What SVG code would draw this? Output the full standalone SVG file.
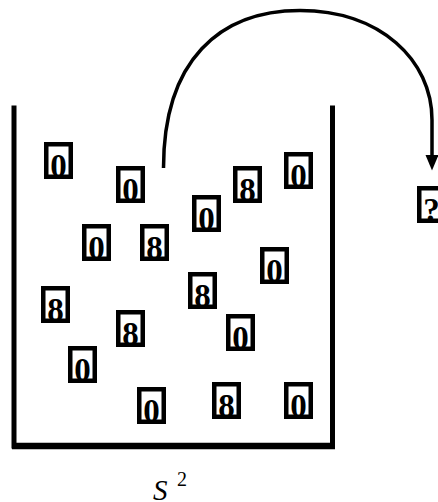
<svg xmlns="http://www.w3.org/2000/svg" width="438" height="502" viewBox="0 0 438 502">
<style>
.box rect{fill:#fff;stroke:#000;stroke-width:4.5}
.box text{font-family:"Liberation Serif","Times New Roman",serif;font-weight:bold;font-size:33px;text-anchor:middle;fill:#000}
.wall{fill:none;stroke:#000;stroke-width:5;stroke-linecap:square}
.conn{fill:none;stroke:#000;stroke-width:3.5}
.lab{font-family:"Liberation Serif","Times New Roman",serif;fill:#000}
</style>
<rect width="438" height="502" fill="#fff"/>
<g id="container">
<path class="wall" d="M14,108 V446 H332.5 V108"/>
<line x1="12" y1="446" x2="335" y2="446" stroke="#000" stroke-width="6.5"/>
</g>
<g id="connectors">
<path class="conn" d="M163.5,168 C163.5,60 220,10.5 300,10.5 C380,10.5 432,60 432,120 L432,156"/>
<polygon points="425.5,155 438.5,155 432,170.5" fill="#000"/>
</g>
<g id="n1" class="box"><rect x="46.25" y="144.25" width="24.5" height="32.5"/><text x="58.5" y="177">0</text></g>
<g id="n2" class="box"><rect x="118.25" y="168.25" width="24.5" height="32.5"/><text x="130.5" y="201">0</text></g>
<g id="n3" class="box"><rect x="194.25" y="197.25" width="24.5" height="32.5"/><text x="206.5" y="230">0</text></g>
<g id="n4" class="box"><rect x="84.25" y="226.25" width="24.5" height="32.5"/><text x="96.5" y="259">0</text></g>
<g id="n5" class="box"><rect x="142.25" y="226.25" width="24.5" height="32.5"/><text x="154.5" y="259">8</text></g>
<g id="n6" class="box"><rect x="235.25" y="168.25" width="24.5" height="32.5"/><text x="247.5" y="201">8</text></g>
<g id="n7" class="box"><rect x="286.25" y="154.25" width="24.5" height="32.5"/><text x="298.5" y="187">0</text></g>
<g id="n8" class="box"><rect x="262.25" y="249.25" width="24.5" height="32.5"/><text x="274.5" y="282">0</text></g>
<g id="n9" class="box"><rect x="43.25" y="288.25" width="24.5" height="32.5"/><text x="55.5" y="321">8</text></g>
<g id="n10" class="box"><rect x="190.25" y="274.25" width="24.5" height="32.5"/><text x="202.5" y="307">8</text></g>
<g id="n11" class="box"><rect x="118.25" y="312.25" width="24.5" height="32.5"/><text x="130.5" y="345">8</text></g>
<g id="n12" class="box"><rect x="228.25" y="316.25" width="24.5" height="32.5"/><text x="240.5" y="349">0</text></g>
<g id="n13" class="box"><rect x="70.25" y="348.25" width="24.5" height="32.5"/><text x="82.5" y="381">0</text></g>
<g id="n14" class="box"><rect x="139.25" y="389.25" width="24.5" height="32.5"/><text x="151.5" y="422">0</text></g>
<g id="n15" class="box"><rect x="214.25" y="384.25" width="24.5" height="32.5"/><text x="226.5" y="417">8</text></g>
<g id="n16" class="box"><rect x="286.25" y="384.25" width="24.5" height="32.5"/><text x="298.5" y="417">0</text></g>
<g id="n17" class="box"><rect x="419.25" y="188.25" width="24.5" height="32.5"/><text x="431.5" y="221">?</text></g>
<g id="label">
<text class="lab" x="153" y="499.5" font-style="italic" font-size="29">S</text>
<text class="lab" x="177" y="486" font-size="20">2</text>
</g>
</svg>
